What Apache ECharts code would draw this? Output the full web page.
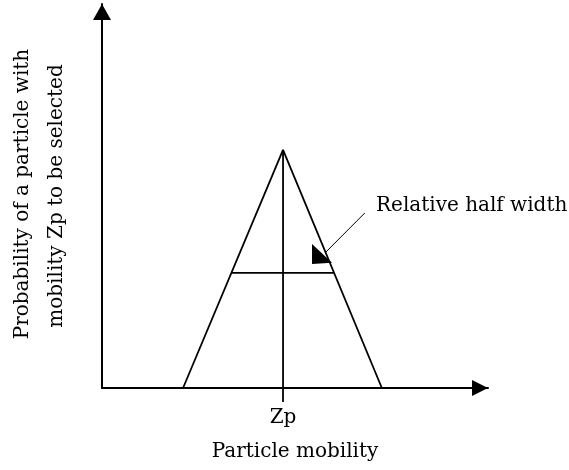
<!DOCTYPE html>
<html>
<head>
<meta charset="utf-8">
<script src="https://cdn.jsdelivr.net/npm/echarts@6/dist/echarts.min.js"></script>
<style>
  html, body { margin: 0; padding: 0; background: #fff; }
  #main { width: 569px; height: 470px; }
</style>
</head>
<body>
<div id="main"></div>
<script>
// distribution triangle (x = mobility, y = probability), arbitrary units
const triangle = [[2.1, 0], [4.69, 6.2], [7.25, 0]];
const centerLine = [[4.69, 6.2], [4.69, 0]];
const halfWidth = [[3.35, 3.0], [6.01, 3.0]];
const zpValue = 4.69;
const zpLabel = 'Zp';
// annotation arrow
const arrowLine = [[6.81, 4.56], [5.8, 3.54]];
const arrowHead = [[5.44, 3.75], [5.44, 3.23], [5.96, 3.26]];
const noteText = 'Relative half width';
const xName = 'Particle mobility';
const yName = ['Probability of a particle with', 'mobility Zp to be selected'];

const FONT = 'DejaVu Serif';
const chart = echarts.init(document.getElementById('main'));

const lineStyle = { color: '#000', width: 1.8 };

chart.setOption({
  animation: false,
  backgroundColor: '#fff',
  grid: { left: 102, right: 81, top: 4, bottom: 82 },
  xAxis: {
    type: 'value', min: 0, max: 10,
    splitLine: { show: false },
    axisLine: { lineStyle: { color: '#000', width: 2 }, symbol: ['none', 'triangle'], symbolSize: [16, 16], symbolOffset: [0, -8] },
    axisTick: { show: true, length: 14, lineStyle: { color: '#000', width: 1.8 }, customValues: [zpValue] },
    axisLabel: { show: true, customValues: [zpValue], formatter: () => zpLabel, margin: 20, color: '#000', fontFamily: FONT, fontSize: 20 },
    name: xName, nameLocation: 'middle', nameGap: 54,
    nameTextStyle: { color: '#000', fontFamily: FONT, fontSize: 20 }
  },
  yAxis: {
    type: 'value', min: 0, max: 10,
    splitLine: { show: false },
    axisLine: { lineStyle: { color: '#000', width: 2 }, symbol: ['none', 'triangle'], symbolSize: [18, 16], symbolOffset: [0, -8] },
    axisTick: { show: false },
    axisLabel: { show: false }
  },
  graphic: [
    { type: 'text', left: 376, top: 196, style: { text: noteText, fill: '#000', font: '20px "' + FONT + '"' } },
    { type: 'text', x: 13, y: 194, rotation: Math.PI / 2, style: { text: yName[0], fill: '#000', font: '20px "' + FONT + '"', align: 'center', verticalAlign: 'top' } },
    { type: 'text', x: 47, y: 196, rotation: Math.PI / 2, style: { text: yName[1], fill: '#000', font: '20px "' + FONT + '"', align: 'center', verticalAlign: 'top' } }
  ],
  series: [
    { type: 'line', data: triangle, symbol: 'none', lineStyle, silent: true },
    { type: 'line', data: centerLine, symbol: 'none', lineStyle, silent: true },
    { type: 'line', data: halfWidth, symbol: 'none', lineStyle, silent: true },
    { type: 'line', data: arrowLine, symbol: 'none', lineStyle: { color: '#000', width: 1 }, silent: true },
    {
      type: 'custom', silent: true, data: [0],
      renderItem: (params, api) => ({
        type: 'polygon',
        shape: { points: arrowHead.map(p => api.coord(p)) },
        style: { fill: '#000' }
      })
    }
  ]
});
</script>
</body>
</html>
